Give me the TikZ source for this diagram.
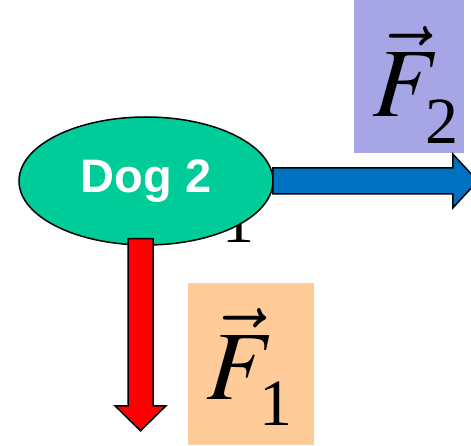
\documentclass[tikz,border=0pt]{standalone}
\usepackage{mathptmx}
\usepackage{fontspec}
\setmainfont{Liberation Serif}
\newfontfamily\dogfont{Liberation Sans}
\usetikzlibrary{shapes, positioning, calc}

\definecolor{doggreen}{RGB}{0,204,153}
\definecolor{pullblue}{RGB}{0,112,192}
\definecolor{boxlilac}{RGB}{166,166,230}
\definecolor{boxpeach}{RGB}{255,204,153}

\begin{document}
\begin{tikzpicture}[
    x=1pt, y=-1pt,
    force/.style={draw=black, line width=1.5pt, line join=miter},
    vecbox/.style={anchor=north west, inner sep=0pt},
    veclabel/.style={anchor=base west, inner sep=0pt, font=\fontsize{98}{98}\selectfont},
]
\useasboundingbox (0,0) rectangle (471,446);
\clip (0,0) rectangle (471,446);

% =========================================================
% 1. Labels of the two forces
% =========================================================
\node[vecbox, fill=boxlilac, minimum width=110, minimum height=158] (f2box) at (354,-5) {};
\node[veclabel] (f2) at ($(f2box.north west)+(18,122)$)
    {$\vec{F}_{\kern3pt\lower12pt\hbox{\fontsize{66}{66}\selectfont 2}}$};

\node[vecbox, fill=boxpeach, minimum width=126, minimum height=162] (f1box) at (188,283) {};
\node[veclabel] (f1) at ($(f1box.north west)+(18,116)$)
    {$\vec{F}_{\kern3pt\lower12pt\hbox{\fontsize{66}{66}\selectfont 1}}$};

% subscript mostly hidden behind the dog
\node[anchor=base, inner sep=0pt, font=\fontsize{64}{64}\selectfont] (hidden1) at (238,243) {1};

% =========================================================
% 2. The dog
% =========================================================
\node[ellipse, draw, line width=1.5pt, fill=doggreen, minimum width=254, minimum height=128,
      inner sep=0pt, text=white, font=\dogfont\bfseries\fontsize{47}{47}\selectfont] (dog) at (146,181) {Dog 2};

% =========================================================
% 3. Force arrows
% =========================================================
% F2 -> to the right
\draw[force, fill=pullblue] ($(dog.east)+(-1,-13)$) -- ++(180,0) -- ++(0,-14) -- ++(25,27)
    -- ++(-25,27) -- ++(0,-14) -- ++(-180,0) -- cycle;

% F1 -> downwards
\draw[force, fill=red] ($(dog.south)+(-18,-7)$) -- ++(25,0) -- ++(0,167) -- ++(13,0)
    -- ++(-25.5,25) -- ++(-25.5,-25) -- ++(13,0) -- cycle;

\end{tikzpicture}
\end{document}
